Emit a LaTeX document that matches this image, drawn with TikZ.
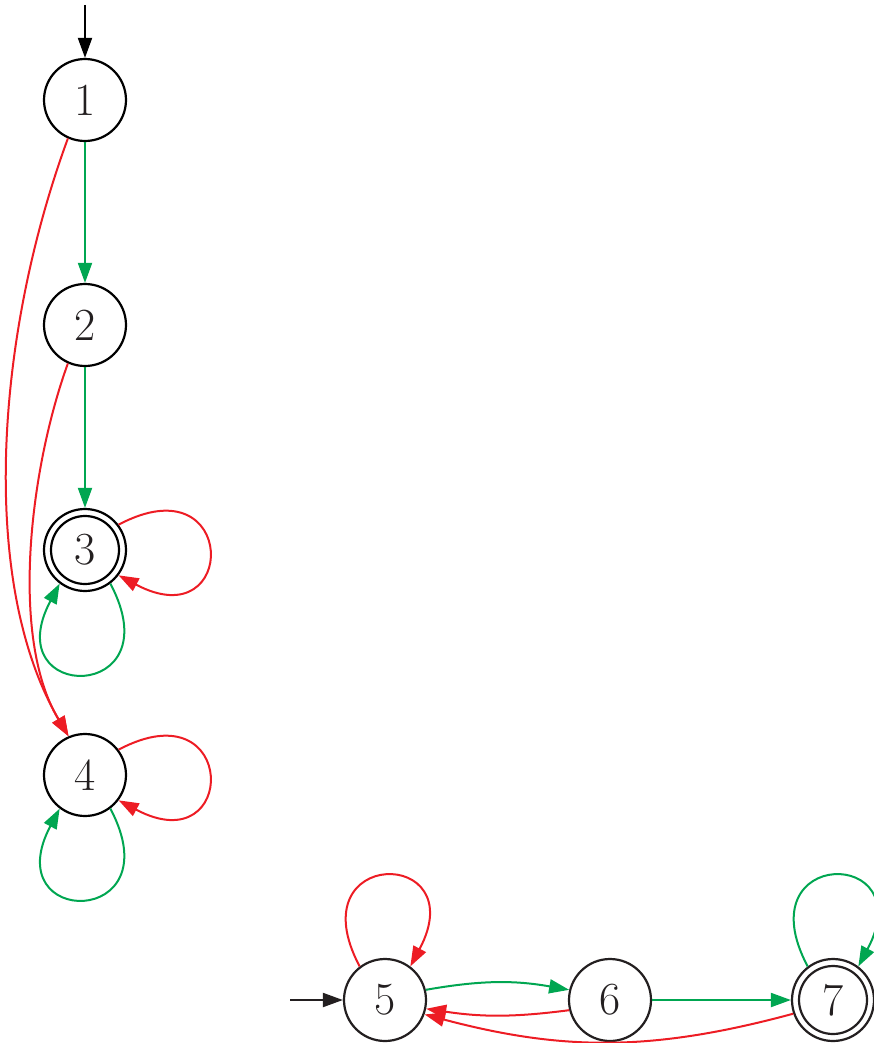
\documentclass[tikz,border=0pt]{standalone}
\usetikzlibrary{arrows.meta}
\definecolor{egreen}{RGB}{0,166,81}
\definecolor{ered}{RGB}{237,28,36}
\definecolor{dgray}{RGB}{35,31,32}
\begin{document}
\begin{tikzpicture}[x=1pt,y=1pt,
  state/.style={circle,draw=black,line width=2.2pt,minimum size=82pt,inner sep=0pt,text=dgray,font=\fontsize{46}{50}\selectfont},
  dstate/.style={state,draw=dgray},
  tr/.style={line width=2pt,-{Triangle[length=20pt,width=14pt]}},
  gtr/.style={tr,color=egreen},
  rtr/.style={tr,color=ered},
  ktr/.style={tr,color=black},
  lp/.style={distance=136pt}]
\useasboundingbox (0,0) rectangle (874,-1043);
\node[state] (n1) at (85,-100) {1};
\node[state] (n2) at (85,-325) {2};
\node[state] (n3) at (85,-550) {3};
\node[state] (n4) at (85,-775) {4};
\node[dstate] (n5) at (385,-1000) {5};
\node[dstate] (n6) at (610,-1000) {6};
\node[dstate] (n7) at (833,-1000) {7};
\draw[line width=2.2pt,black] (n3.center) circle[radius=34pt];
\draw[line width=2.2pt,dgray] (n7.center) circle[radius=34pt];
\coordinate (s1) at (85,-5);
\coordinate (s5) at (290,-1000);
% initial arrows
\draw[ktr] (s1) -- (n1);
\draw[tr,color=dgray] (s5) -- (n5);
% column
\draw[gtr] (n1) -- (n2);
\draw[gtr] (n2) -- (n3);
\draw[rtr] (n1.-114) .. controls (-6,-340) and (-20,-585) .. (n4.113);
\draw[rtr] (n2.-114) .. controls (31,-465) and (8.6,-636) .. (n4.113);
\draw[rtr] (n3.37) to[out=28,in=-28,lp] (n3.-37);
\draw[gtr] (n3.-53) to[out=-62,in=-118,lp] (n3.-127);
\draw[rtr] (n4.37) to[out=28,in=-28,lp] (n4.-37);
\draw[gtr] (n4.-53) to[out=-62,in=-118,lp] (n4.-127);
% row
\draw[rtr] (n5.127) to[out=118,in=62,lp] (n5.53);
\draw[gtr] (n5.14) to[bend left=10] (n6.166);
\draw[rtr] (n6.-166) to[bend left=8] (n5.-12);
\draw[gtr] (n6) -- (n7);
\draw[rtr] (n7.-161) to[bend left=15] (n5.-20);
\draw[gtr] (n7.127) to[out=118,in=62,lp] (n7.53);
\end{tikzpicture}
\end{document}
